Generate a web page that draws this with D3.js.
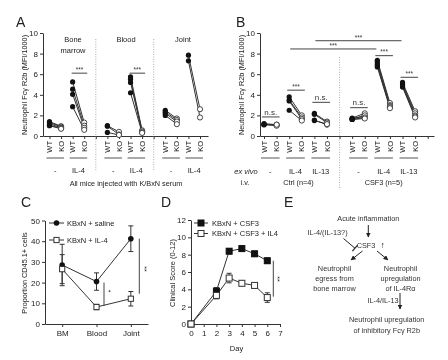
<!DOCTYPE html>
<html><head><meta charset="utf-8">
<script src="https://cdn.jsdelivr.net/npm/d3@7"></script>
<style>body{margin:0;background:#fff} svg{display:block;filter:grayscale(1)} svg text{font-family:"Liberation Sans",Arial,Helvetica,sans-serif}</style>
</head><body><svg id="c" width="448" height="360"></svg>
<script>
// ---------- DATA ----------
// Panel A: [WT, KO] pairs per tissue x treatment
const aTissues = ["Bone marrow", "Blood", "Joint"];
const aTreatments = ["-", "IL-4"];
const aGenotypes = ["WT", "KO"];
const aBM_none = [[1.4,0.95],[1.3,0.9],[1.2,0.8],[1.05,0.75],[1.0,0.7]];
const aBM_IL4 = [[5.25,1.3],[4.55,1.0],[4.05,0.8],[2.85,0.6]];
const aBlood_none = [[1.0,0.4],[0.95,0.15],[0.35,0.1]];
const aBlood_IL4 = [[5.75,0.55],[5.5,0.45],[5.2,0.35],[4.2,0.3]];
const aJoint_none = [[2.5,1.7],[2.35,1.55],[2.2,1.4],[2.0,1.15]];
const aJoint_IL4 = [[7.85,2.6],[7.3,1.8]];
const aSig = [{pair:1, level:6.1, label:"***"}, {pair:3, level:6.1, label:"***"}];
const aYTicks = [0,2,4,6,8,10];

// Panel B
const bIV = ["Ctrl (n=4)", "CSF3 (n=5)"];
const bExVivo = ["-", "IL-4", "IL-13"];
const bCtrl_none = [[1.2,1.1],[1.15,1.05],[1.1,1.0],[1.1,1.1]];
const bCtrl_IL4 = [[3.8,2.0],[3.5,1.8],[3.4,1.65],[2.5,1.5]];
const bCtrl_IL13 = [[2.2,1.4],[2.1,1.3],[1.55,1.1],[1.5,1.15]];
const bCSF3_none = [[1.75,2.2],[1.7,1.9],[1.65,2.0],[1.6,1.8],[1.6,1.7]];
const bCSF3_IL4 = [[7.35,3.2],[7.2,3.0],[7.0,2.9],[6.85,2.8],[6.7,2.7]];
const bCSF3_IL13 = [[5.2,2.4],[5.05,2.2],[4.95,2.0],[4.85,1.9],[4.75,1.8]];
const bSig = [
  {pair:0, level:1.85, label:"n.s."}, {pair:1, level:4.45, label:"***"},
  {pair:2, level:3.27, label:"n.s."}, {pair:3, level:2.75, label:"n.s."},
  {pair:4, level:7.8, label:"***"}, {pair:5, level:5.7, label:"***"}
];
const bLongSig = [{from:[0,1], to:[1,1], level:8.45, label:"***"}, {from:[0,2], to:[1,2], level:9.25, label:"***"}];

// Panel C
const cSites = ["BM", "Blood", "Joint"];
const cSeries = ["KBxN + saline", "KBxN + IL-4"];
const cSalineMean = [28.5, 20.5, 41.2];
const cSalineErr = [10, 4.2, 6.2];
const cIL4Mean = [26.5, 8.2, 12.2];
const cIL4Err = [7, 1.3, 3.5];
const cYTicks = [0,10,20,30,40,50];

// Panel D
const dSeries = ["KBxN + CSF3", "KBxN + CSF3 + IL4"];
const dDays = [0,2,3,4,5,6];
const dCSF3 = [0, 3.8, 8.4, 8.7, 8.1, 7.3];
const dCSF3Err = [0, 0.4, 0.3, 0.3, 0.3, 0.3];
const dIL4 = [0, 3.3, 5.3, 4.7, 4.45, 3.05];
const dIL4Err = [0, 0.4, 0.55, 0.3, 0.2, 0.55];
const dXTicks = [0,1,2,3,4,5,6,7];
const dYTicks = [0,2,4,6,8,10,12];

// ---------- HELPERS ----------
const svg = d3.select("#c");
const INK = "#222";
const fmtInt = d3.format("d");
function txt(g, x, y, s, o = {}) {
  const t = g.append("text").attr("x", x).attr("y", y).attr("dy", "0.35em")
    .attr("text-anchor", o.anchor || "middle").attr("font-size", o.size || 7.5)
    .attr("fill", o.fill || INK).text(s);
  if (o.italic) t.attr("font-style", "italic");
  if (o.rotate) t.attr("transform", `rotate(${o.rotate},${x},${y})`);
  return t;
}
function styleAxis(g, fs) {
  g.select(".domain").attr("stroke", "#333").attr("stroke-width", 1);
  g.selectAll(".tick line").attr("stroke", "#333");
  g.selectAll(".tick text").attr("font-size", fs || 8).attr("fill", INK);
}
const defs = svg.append("defs");
defs.append("marker").attr("id", "arr").attr("viewBox", "0 0 10 10").attr("refX", 9).attr("refY", 5)
  .attr("markerWidth", 5).attr("markerHeight", 5).attr("orient", "auto")
  .append("path").attr("d", "M0,0L10,5L0,10z").attr("fill", "#222");

function line(g, x1, y1, x2, y2, st = "#333", w = 1, dash = null) {
  const l = g.append("line").attr("x1", x1).attr("y1", y1).attr("x2", x2).attr("y2", y2)
    .attr("stroke", st).attr("stroke-width", w);
  if (dash) l.attr("stroke-dasharray", dash);
  return l;
}

function pairedPanel(g, x, y, pairs, idxOf, r) {
  pairs.forEach((set, k) => {
    const i = idxOf(k);
    set.forEach(p => line(g, x(i), y(p[0]), x(i + 1), y(p[1]), "#333", 1));
  });
  pairs.forEach((set, k) => {
    const i = idxOf(k);
    set.forEach(p => {
      g.append("circle").attr("cx", x(i)).attr("cy", y(p[0])).attr("r", r).attr("fill", "#111");
      g.append("circle").attr("cx", x(i + 1)).attr("cy", y(p[1])).attr("r", r)
        .attr("fill", "#fff").attr("stroke", "#333").attr("stroke-width", 0.9);
    });
  });
}
function sigBar(g, x1, x2, yy, label) {
  line(g, x1, yy, x2, yy, "#444", 1);
  txt(g, (x1 + x2) / 2, yy - (label === "n.s." ? 5 : 3.5), label, {size: label === "n.s." ? 8 : 6.5, fill: "#333"});
}

// ---------- PANEL A ----------
{
  const g = svg.append("g");
  const x = d3.scaleLinear().domain([-0.56, 13.69]).range([43, 208]);
  const y = d3.scaleLinear().domain([0, 10]).range([136, 33]);
  const idxOf = k => Math.floor(k / 2) * 5 + (k % 2) * 2;
  const ya = g.append("g").attr("transform", "translate(43,0)")
    .call(d3.axisLeft(y).tickValues(aYTicks).tickFormat(fmtInt).tickSize(3).tickSizeOuter(0).tickPadding(2));
  styleAxis(ya);
  const xa = g.append("g").attr("transform", "translate(0,136)")
    .call(d3.axisBottom(x).tickValues(d3.range(14)).tickSize(3).tickSizeOuter(0).tickFormat(""));
  styleAxis(xa);
  [4, 9].forEach(i => line(g, x(i), 39, x(i), 170, "#999", 0.8, "1,1.5"));
  const pairs = [aBM_none, aBM_IL4, aBlood_none, aBlood_IL4, aJoint_none, aJoint_IL4];
  pairedPanel(g, x, y, pairs, idxOf, 2.6);
  pairs.forEach((s, k) => {
    const i = idxOf(k);
    aGenotypes.forEach((gt, j) => {
      g.append("text").attr("transform", `translate(${x(i + j)},141) rotate(-90)`).attr("dy", "0.35em")
        .attr("text-anchor", "end").attr("font-size", 7.5).attr("fill", INK).text(gt);
    });
    line(g, x(i) - 3, 158, x(i + 1) + 3, 158, "#555", 1);
    txt(g, (x(i) + x(i + 1)) / 2, 170, aTreatments[k % 2], {size: 7.5});
  });
  aSig.forEach(s => { const i = idxOf(s.pair); sigBar(g, x(i) - 1, x(i + 1) + 3, y(s.level), s.label); });
  txt(g, 73, 39, "Bone", {size: 7.5}); txt(g, 73, 50, "marrow", {size: 7.5});
  txt(g, 126, 39, aTissues[1], {size: 7.5});
  txt(g, 183, 39, aTissues[2], {size: 7.5});
  txt(g, 126, 183, "All mice injected with K/BxN serum", {size: 7.3});
  txt(g, 24, 85, "Neutrophil Fcγ R2b (MFI/1000)", {size: 7.3, rotate: -90});
  g.append("text").attr("x", 16).attr("y", 27).attr("font-size", 14).attr("fill", INK).text("A");
}

// ---------- PANEL B ----------
{
  const g = svg.append("g");
  const x = d3.scaleLinear().domain([-0.32, 13.5]).range([260, 434]);
  const y = d3.scaleLinear().domain([0, 10]).range([136, 33]);
  const idxOf = k => Math.floor(k / 3) * 7 + (k % 3) * 2;
  const ya = g.append("g").attr("transform", "translate(260,0)")
    .call(d3.axisLeft(y).tickValues(aYTicks).tickFormat(fmtInt).tickSize(3).tickSizeOuter(0).tickPadding(2));
  styleAxis(ya);
  const xa = g.append("g").attr("transform", "translate(0,136)")
    .call(d3.axisBottom(x).tickValues(d3.range(14)).tickSize(3).tickSizeOuter(0).tickFormat(""));
  styleAxis(xa);
  line(g, x(6), 57, x(6), 188, "#999", 0.8, "1,1.5");
  const pairs = [bCtrl_none, bCtrl_IL4, bCtrl_IL13, bCSF3_none, bCSF3_IL4, bCSF3_IL13];
  pairedPanel(g, x, y, pairs, idxOf, 2.6);
  pairs.forEach((s, k) => {
    const i = idxOf(k);
    aGenotypes.forEach((gt, j) => {
      g.append("text").attr("transform", `translate(${x(i + j)},141) rotate(-90)`).attr("dy", "0.35em")
        .attr("text-anchor", "end").attr("font-size", 7.5).attr("fill", INK).text(gt);
    });
    line(g, x(i) - 3, 158, x(i + 1) + 3, 158, "#555", 1);
    txt(g, (x(i) + x(i + 1)) / 2, 171, bExVivo[k % 3], {size: 7.5});
  });
  bSig.forEach(s => { const i = idxOf(s.pair); sigBar(g, x(i) - 2, x(i + 1) + 3, y(s.level), s.label); });
  bLongSig.forEach(s => {
    const i1 = idxOf(s.from[0] * 3 + s.from[1]), i2 = idxOf(s.to[0] * 3 + s.to[1]);
    sigBar(g, x(i1) + 1, x(i2) - 1, y(s.level), s.label);
  });
  txt(g, 246, 171, "ex vivo", {size: 7.5, italic: true});
  txt(g, 245, 182, "i.v.", {size: 7.3});
  txt(g, (x(0) + x(5)) / 2 + 3, 182, bIV[0], {size: 7.3});
  txt(g, (x(7) + x(12)) / 2, 182, bIV[1], {size: 7.3});
  txt(g, 241, 85, "Neutrophil Fcγ R2b (MFI/1000)", {size: 7.3, rotate: -90});
  g.append("text").attr("x", 236).attr("y", 27).attr("font-size", 14).attr("fill", INK).text("B");
}

// ---------- PANEL C ----------
{
  const g = svg.append("g");
  const x = d3.scalePoint().domain(cSites).range([45, 148]).padding(0.5);
  const y = d3.scaleLinear().domain([0, 50]).range([324, 220.5]);
  const ya = g.append("g").attr("transform", "translate(45,0)")
    .call(d3.axisLeft(y).tickValues(cYTicks).tickFormat(fmtInt).tickSize(3).tickSizeOuter(0).tickPadding(2));
  styleAxis(ya);
  const xa = g.append("g").attr("transform", "translate(0,324)")
    .call(d3.axisBottom(x).tickSize(3).tickSizeOuter(0).tickPadding(3));
  styleAxis(xa);
  const series = [
    {m: cSalineMean, e: cSalineErr, filled: true},
    {m: cIL4Mean, e: cIL4Err, filled: false}
  ];
  series.forEach(s => {
    const ln = d3.line().x((d, i) => x(cSites[i])).y(d => y(d));
    g.append("path").attr("d", ln(s.m)).attr("fill", "none").attr("stroke", "#333").attr("stroke-width", 1);
    s.m.forEach((v, i) => {
      const cx = x(cSites[i]);
      line(g, cx, y(v - s.e[i]), cx, y(v + s.e[i]), "#333", 1);
      line(g, cx - 2.5, y(v - s.e[i]), cx + 2.5, y(v - s.e[i]), "#333", 1);
      line(g, cx - 2.5, y(v + s.e[i]), cx + 2.5, y(v + s.e[i]), "#333", 1);
    });
  });
  series.forEach(s => s.m.forEach((v, i) => {
    const cx = x(cSites[i]);
    if (s.filled) g.append("circle").attr("cx", cx).attr("cy", y(v)).attr("r", 2.8).attr("fill", "#111");
    else g.append("rect").attr("x", cx - 2.6).attr("y", y(v) - 2.6).attr("width", 5.2).attr("height", 5.2)
      .attr("fill", "#fff").attr("stroke", "#333").attr("stroke-width", 1);
  }));
  line(g, 104, y(cSalineMean[1]) + 1, 104, y(cIL4Mean[1]) - 1, "#444", 1);
  txt(g, 108.5, 291, "*", {size: 7, rotate: 90});
  line(g, 139.3, y(cSalineMean[2]), 139.3, y(cIL4Mean[2]) - 5, "#444", 1);
  txt(g, 144, 269, "**", {size: 7, rotate: 90});
  [223, 240].forEach((ly, k) => {
    line(g, 49, ly, 64, ly, "#333", 1);
    if (k === 0) g.append("circle").attr("cx", 56.5).attr("cy", ly).attr("r", 2.8).attr("fill", "#111");
    else g.append("rect").attr("x", 53.9).attr("y", ly - 2.6).attr("width", 5.2).attr("height", 5.2)
      .attr("fill", "#fff").attr("stroke", "#333");
    txt(g, 67, ly, cSeries[k], {size: 7.5, anchor: "start"});
  });
  txt(g, 24, 273, "Proportion CD45.1+ cells", {size: 7.3, rotate: -90});
  g.append("text").attr("x", 21).attr("y", 207).attr("font-size", 14).attr("fill", INK).text("C");
}

// ---------- PANEL D ----------
{
  const g = svg.append("g");
  const x = d3.scaleLinear().domain([0, 7]).range([191, 280]);
  const y = d3.scaleLinear().domain([0, 12]).range([324, 220]);
  const ya = g.append("g").attr("transform", "translate(191,0)")
    .call(d3.axisLeft(y).tickValues(dYTicks).tickFormat(fmtInt).tickSize(3).tickSizeOuter(0).tickPadding(2));
  styleAxis(ya);
  const xa = g.append("g").attr("transform", "translate(0,324)")
    .call(d3.axisBottom(x).tickValues(dXTicks).tickFormat(fmtInt).tickSize(3).tickSizeOuter(0).tickPadding(3));
  styleAxis(xa);
  const series = [{m: dCSF3, e: dCSF3Err, filled: true}, {m: dIL4, e: dIL4Err, filled: false}];
  series.forEach(s => {
    const ln = d3.line().x((d, i) => x(dDays[i])).y(d => y(d));
    g.append("path").attr("d", ln(s.m)).attr("fill", "none").attr("stroke", "#333").attr("stroke-width", 1);
    s.m.forEach((v, i) => {
      if (!s.e[i]) return;
      const cx = x(dDays[i]);
      line(g, cx, y(v - s.e[i]), cx, y(v + s.e[i]), "#333", 1);
      line(g, cx - 2.5, y(v - s.e[i]), cx + 2.5, y(v - s.e[i]), "#333", 1);
      line(g, cx - 2.5, y(v + s.e[i]), cx + 2.5, y(v + s.e[i]), "#333", 1);
    });
  });
  series.forEach(s => s.m.forEach((v, i) => {
    const cx = x(dDays[i]);
    g.append("rect").attr("x", cx - 3).attr("y", y(v) - 3).attr("width", 6).attr("height", 6)
      .attr("fill", s.filled ? "#111" : "#fff").attr("stroke", s.filled ? "#111" : "#333").attr("stroke-width", 1);
  }));
  line(g, 273.3, 260.7, 273.3, 296.7, "#444", 1);
  txt(g, 277.5, 279, "**", {size: 7, rotate: 90});
  [223, 233.5].forEach((ly, k) => {
    line(g, 194, ly, 208, ly, "#333", 1);
    g.append("rect").attr("x", 198).attr("y", ly - 3).attr("width", 6).attr("height", 6)
      .attr("fill", k === 0 ? "#111" : "#fff").attr("stroke", k === 0 ? "#111" : "#333");
    txt(g, 212, ly, dSeries[k], {size: 7.5, anchor: "start"});
  });
  txt(g, 236.5, 348, "Day", {size: 7.5});
  txt(g, 172.7, 273, "Clinical Score (0-12)", {size: 7.5, rotate: -90});
  g.append("text").attr("x", 161).attr("y", 207).attr("font-size", 14).attr("fill", INK).text("D");
}

// ---------- PANEL E ----------
{
  const g = svg.append("g");
  const fs = 7.3, c = "#333";
  g.append("text").attr("x", 284).attr("y", 207).attr("font-size", 14).attr("fill", INK).text("E");
  txt(g, 368.3, 218.5, "Acute inflammation", {size: fs, fill: c});
  line(g, 368.3, 225, 368.3, 237, "#222", 1).attr("marker-end", "url(#arr)");
  txt(g, 327.5, 232.7, "IL-4/(IL-13?)", {size: fs, fill: c});
  txt(g, 366, 245.7, "CSF3", {size: fs, fill: c});
  txt(g, 382.5, 245.2, "↑", {size: 8.5, fill: "#111"}).attr("font-weight", "bold");
  line(g, 343.5, 238.5, 355, 248.3, "#222", 1);
  line(g, 352.4, 251.2, 357.6, 245.1, "#222", 1.2);
  line(g, 362.5, 251, 351, 260, "#222", 1).attr("marker-end", "url(#arr)");
  line(g, 377, 251, 388, 260, "#222", 1).attr("marker-end", "url(#arr)");
  ["Neutrophil", "egress from", "bone marrow"].forEach((s, i) => txt(g, 334.5, 268.3 + i * 10, s, {size: fs, fill: c}));
  ["Neutrophil", "upregulation", "of IL-4Rα"].forEach((s, i) => txt(g, 400.5, 268.3 + i * 10, s, {size: fs, fill: c}));
  txt(g, 383, 300.7, "IL-4/IL-13", {size: fs, fill: c});
  line(g, 400, 293, 400, 309, "#222", 1).attr("marker-end", "url(#arr)");
  txt(g, 386.7, 319.3, "Neutrophil upregulation", {size: fs, fill: c});
  txt(g, 386.7, 330, "of inhibitory Fcγ R2b", {size: fs, fill: c});
}
</script></body></html>
